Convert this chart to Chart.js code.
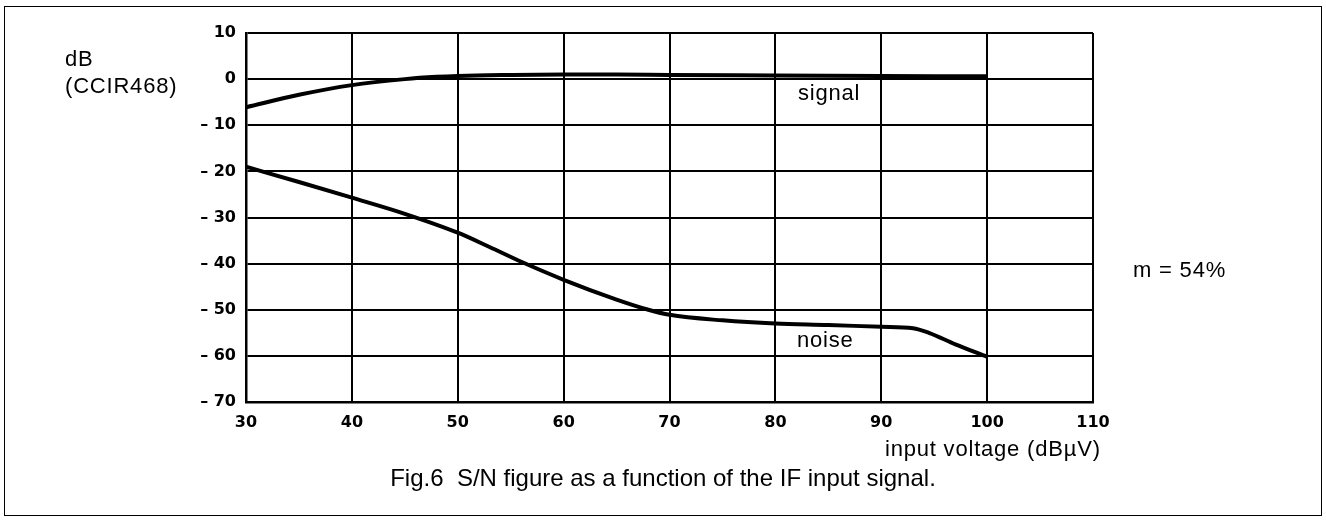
<!DOCTYPE html>
<html><head><meta charset="utf-8">
<script src="https://cdn.jsdelivr.net/npm/chart.js@4"></script>
<style>
html,body{margin:0;padding:0;background:#fff;}
#wrap{position:relative;width:1326px;height:523px;}
#frame{position:absolute;left:4px;top:6px;width:1316px;height:508px;border:1.5px solid #000;pointer-events:none;}
.t{position:absolute;font-family:"Liberation Sans",Arial,sans-serif;font-size:22px;letter-spacing:0.8px;color:#000;white-space:nowrap;line-height:22px;}
.cap{position:absolute;left:0;width:1326px;text-align:center;font-family:"Liberation Sans",Arial,sans-serif;font-size:24px;line-height:24px;color:#000;white-space:pre;}
</style></head>
<body><div id="wrap">
<canvas id="c" width="1326" height="523"></canvas>
<div id="frame"></div>
<div class="t" style="left:65px;top:48px;">dB</div>
<div class="t" style="left:65px;top:75px;">(CCIR468)</div>
<div class="t" style="left:798px;top:82px;">signal</div>
<div class="t" style="left:797px;top:329px;">noise</div>
<div class="t" style="left:1133px;top:259px;">m = 54%</div>
<div class="t" style="left:885px;top:438px;">input voltage (dBµV)</div>
<div class="cap" style="top:466px;">Fig.6  S/N figure as a function of the IF input signal.</div>
</div>
<script>
const xTicks = [30,40,50,60,70,80,90,100,110];
const yTicks = [10,0,-10,-20,-30,-40,-50,-60,-70];
const signalX = [30,35,40,45,48,50,55,60,65,70,80,90,100];
const signalY = [-6.1,-3.4,-1.3,0.0,0.5,0.7,0.9,1.0,1.0,0.9,0.8,0.7,0.6];
const noiseX = [30,35,40,45,50,53,56,60,65,68,70,75,80,85,90,93,94.5,97,100];
const noiseY = [-19.0,-22.3,-25.7,-29.2,-33.3,-36.4,-39.6,-43.5,-47.8,-50.0,-51.1,-52.3,-53.0,-53.3,-53.7,-54.0,-55.0,-57.5,-60.2];

const pts = (xs, ys) => xs.map((x,i)=>({x:x,y:ys[i]}));
const tickFont = {family:'"DejaVu Sans", sans-serif', size:16, weight:'bold'};

new Chart(document.getElementById('c'), {
  type:'line',
  data:{datasets:[
    {label:'signal', data:pts(signalX,signalY), borderColor:'#000', borderWidth:4, pointRadius:0, cubicInterpolationMode:'monotone', fill:false},
    {label:'noise', data:pts(noiseX,noiseY), borderColor:'#000', borderWidth:4, pointRadius:0, cubicInterpolationMode:'monotone', fill:false}
  ]},
  options:{
    responsive:false, animation:false, devicePixelRatio:1,
    layout:{padding:{left:0,top:33,right:233,bottom:0}},
    plugins:{legend:{display:false}, tooltip:{enabled:false}},
    scales:{
      x:{type:'linear', min:30, max:110,
        afterFit:s=>{s.height=121;},
        afterBuildTicks:s=>{s.ticks=xTicks.map(v=>({value:v}));},
        grid:{color:'#000', lineWidth:2, drawTicks:false},
        border:{display:true,color:'#000',width:2.5},
        ticks:{color:'#000', font:tickFont, padding:11, maxRotation:0, callback:v=>String(v)}
      },
      y:{type:'linear', min:-70, max:10,
        afterFit:s=>{s.width=246;},
        afterBuildTicks:s=>{s.ticks=yTicks.map(v=>({value:v}));},
        grid:{color:'#000', lineWidth:2, drawTicks:false},
        border:{display:true,color:'#000',width:2.5},
        ticks:{color:'#000', font:tickFont, padding:10, callback:v=> v<0 ? '\u2013 '+Math.abs(v) : String(v)}
      }
    }
  }
});
</script>
</body></html>
